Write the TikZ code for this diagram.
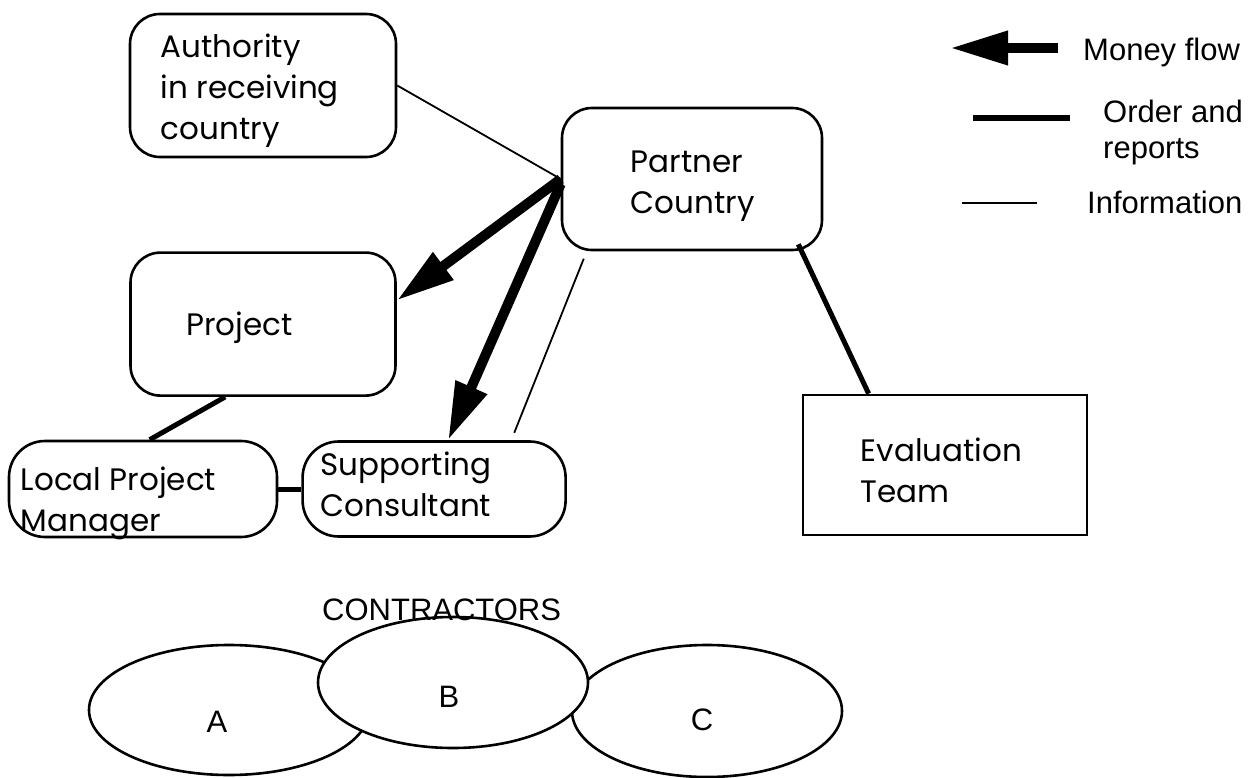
\documentclass[tikz,border=0pt]{standalone}
\usepackage{fontspec}
\setmainfont{Poppins}
\newfontfamily\legendfont{Liberation Sans}
\usetikzlibrary{positioning,shapes.geometric,arrows.meta}

\begin{document}
\begin{tikzpicture}[x=1pt,y=-1pt,
  box/.style={draw, line width=2.6pt, rounded corners=30pt, inner sep=0pt},
  sqbox/.style={draw, line width=2.8pt, inner sep=0pt},
  boxtext/.style={font=\fontsize{31}{41}\selectfont, align=left, anchor=west, inner sep=0pt},
  legtext/.style={font=\legendfont\fontsize{31}{36}\selectfont, align=left, inner sep=0pt},
  contractor/.style={draw, ellipse, line width=2.6pt, inner sep=0pt},
  money/.style={line width=10pt, -{Triangle[length=58pt,width=32pt]}},
  order/.style={line width=5pt},
  info/.style={line width=1.8pt}]
  \useasboundingbox (0,0) rectangle (1258,778);

  % boxes
  \node[box, minimum width=266pt, minimum height=143pt] (auth) at (263,85.5) {};
  \node[box, minimum width=265pt, minimum height=143pt, below=93pt of auth] (proj) {};
  \node[box, minimum width=260pt, minimum height=142pt] (partner) at (692,179) {};
  \node[box, rounded corners=36pt, minimum width=268pt, minimum height=96pt] (lpm) at (143,489) {};
  \node[box, rounded corners=36pt, minimum width=263pt, minimum height=95pt, right=23pt of lpm] (sc) {};
  \node[sqbox, minimum width=284pt, minimum height=140pt] (eval) at (945,465) {};

  \node[boxtext] (auth-txt) at ([xshift=32pt,yshift=-5pt]auth.west) {Authority\\in receiving\\country};
  \node[boxtext] (proj-txt) at ([xshift=57pt,yshift=-3.5pt]proj.west) {Project};
  \node[boxtext] (partner-txt) at ([xshift=70pt,yshift=-7pt]partner.west) {Partner\\Country};
  \node[boxtext] (lpm-txt) at ([xshift=13pt,yshift=-14.5pt]lpm.west) {Local Project\\Manager};
  \node[boxtext] (sc-txt) at ([xshift=19pt,yshift=5pt]sc.west) {Supporting\\Consultant};
  \node[boxtext] (eval-txt) at ([xshift=59pt,yshift=-5.5pt]eval.west) {Evaluation\\Team};

  % connectors
  \draw[info] (auth.east) -- (partner.west);
  \draw[money] (partner.west) -- (proj.10);
  \draw[money] ([yshift=-5pt]partner.west) -- ([xshift=14pt]sc.north);
  \draw[info, shorten <=8pt, shorten >=8pt] ([xshift=26pt]partner.south west) -- ([xshift=210pt]sc.north west);
  \draw[order] ([xshift=-25pt,yshift=7pt]partner.south east) -- ([xshift=67pt]eval.north west);
  \draw[order] ([xshift=96pt]proj.south west) -- ([xshift=142pt]lpm.north west);
  \draw[order] (lpm.east) -- (sc.west);

  % contractors
  \node[contractor, minimum width=280pt, minimum height=130pt] (ca) at (229,710) {};
  \node[contractor, minimum width=270pt, minimum height=132pt] (cc) at (707,711) {};
  \node[contractor, fill=white, minimum width=270pt, minimum height=131pt] (cb) at (453,682.5) {};
  \node[legtext] (ca-txt) at (217,722) {A};
  \node[legtext] (cb-txt) at (449,697) {B};
  \node[legtext] (cc-txt) at (702,720) {C};
  \node[legtext, anchor=base west] (contr) at (322,620) {CONTRACTORS};

  % legend
  \coordinate (mf-r) at (1058,48);
  \coordinate (mf-l) at (950,48);
  \coordinate (or-l) at (973,118);
  \coordinate (or-r) at (1070,118);
  \coordinate (in-l) at (962,203);
  \coordinate (in-r) at (1037,203);
  \draw[money] (mf-r) -- (mf-l);
  \draw[order, line width=6pt] (or-l) -- (or-r);
  \draw[info] (in-l) -- (in-r);
  \node[legtext, anchor=base west] (mf) at (1083,61) {Money flow};
  \node[legtext, anchor=base west] (ord) at (1103,159) {Order and\\reports};
  \node[legtext, anchor=base west] (inf) at (1087,214) {Information};
\end{tikzpicture}
\end{document}
